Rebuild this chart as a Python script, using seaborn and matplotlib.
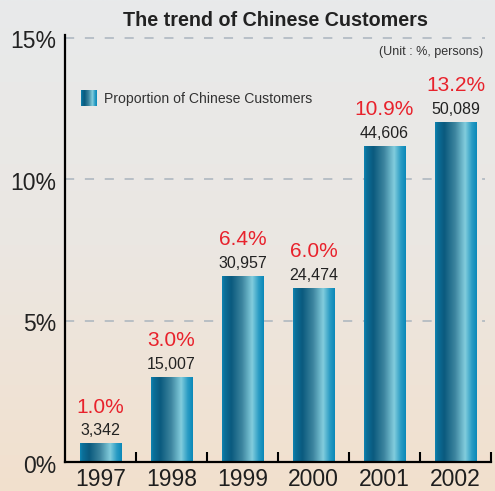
import numpy as np
import pandas as pd
import matplotlib
matplotlib.use("Agg")
import matplotlib.pyplot as plt
import matplotlib.transforms as mtrans
from matplotlib.colors import LinearSegmentedColormap
from matplotlib.ticker import FixedLocator
import seaborn as sns

years = ["1997", "1998", "1999", "2000", "2001", "2002"]
bar_heights = [0.66, 3.02, 6.58, 6.15, 11.18, 12.02]   # drawn bar heights (%)
pct_labels = [1.0, 3.0, 6.4, 6.0, 10.9, 13.2]
persons = [3342, 15007, 30957, 24474, 44606, 50089]
y_ticks = [0, 5, 10, 15]
title = "The trend of Chinese Customers"
unit_text = "(Unit : %, persons)"
legend_label = "Proportion of Chinese Customers"

sns.set_theme(style="white")
FONT = ["Liberation Sans", "DejaVu Sans"]
plt.rcParams["font.family"] = FONT

fig = plt.figure(figsize=(4.95, 4.91), dpi=100)

# background gradient
bg = fig.add_axes([0, 0, 1, 1], zorder=-10)
bg_cmap = LinearSegmentedColormap.from_list("bg", ["#e8eaeb", "#ebe7e2", "#f2e0cd"])
bg.imshow(np.linspace(0, 1, 256).reshape(-1, 1), aspect="auto", cmap=bg_cmap,
          extent=[0, 1, 0, 1], origin="upper")
bg.axis("off")

W, H = 495, 491
ax = fig.add_axes([65 / W, (H - 462) / H, 426 / W, (462 - 35) / H])
ax.patch.set_alpha(0)

df = pd.DataFrame({"year": years, "height": bar_heights})
sns.barplot(data=df, x="year", y="height", ax=ax, width=0.59,
            color="#1a7fa8", saturation=1, zorder=3)

bar_cmap = LinearSegmentedColormap.from_list(
    "bar", [(0.0, "#0e84b2"), (0.06, "#0b6f99"), (0.22, "#0a5a7e"),
            (0.48, "#3d859f"), (0.72, "#82cddd"), (0.88, "#2a9cc4"),
            (1.0, "#0a88b8")])
grad = np.linspace(0, 1, 256).reshape(1, -1)

for p in ax.patches:
    x0, y0 = p.get_x(), p.get_y()
    w, h = p.get_width(), p.get_height()
    p.set_facecolor("none")
    p.set_edgecolor("none")
    im = ax.imshow(grad, aspect="auto", cmap=bar_cmap,
                   extent=[x0, x0 + w, y0, y0 + h], zorder=3)
    im.set_clip_path(p)

ax.set_xlim(-0.5, 5.5)
ax.set_ylim(0, 15.1)

for i, (h, pc, n) in enumerate(zip(bar_heights, pct_labels, persons)):
    ax.annotate(f"{n:,}", (i, h), xytext=(0, 9), textcoords="offset points",
                ha="center", va="center", fontsize=11.5, color="#222222", zorder=5)
    ax.annotate(f"{pc:.1f}%", (i, h), xytext=(0, 26), textcoords="offset points",
                ha="center", va="center", fontsize=15, color="#e8222c", zorder=5)

# grid
for yv in y_ticks[1:]:
    ax.axhline(yv, xmin=0, xmax=0.985, color="#aab4be", lw=1.1,
               dashes=(6, 7), zorder=1)

ax.set_yticks(y_ticks)
ax.set_yticklabels([f"{v}%" for v in y_ticks], fontsize=16.5, color="#222222",
                   va="center")
ax.tick_params(axis="y", length=0, pad=6)
off = mtrans.ScaledTranslation(0, -3 / 72, fig.dpi_scale_trans)
for lbl in ax.get_yticklabels():
    lbl.set_transform(lbl.get_transform() + off)

ax.set_xticks(range(len(years)))
ax.set_xticklabels(years, fontsize=16.5, color="#1e1e1e")
ax.tick_params(axis="x", which="major", length=0, pad=4)
ax.xaxis.set_minor_locator(FixedLocator([0.5, 1.5, 2.5, 3.5, 4.5, 5.5]))
ax.tick_params(axis="x", which="minor", direction="in", length=7.5,
               width=1.5, color="black", bottom=True)
ax.set_xlabel("")
ax.set_ylabel("")

for s in ["top", "right"]:
    ax.spines[s].set_visible(False)
for s in ["left", "bottom"]:
    ax.spines[s].set_visible(True)
    ax.spines[s].set_color("black")
    ax.spines[s].set_linewidth(1.6)
    ax.spines[s].set_zorder(6)

# title & unit
fig.text(275 / W, 1 - 20 / H, title, ha="center", va="center",
         fontsize=14.2, fontweight="bold", color="#222222")
fig.text(483 / W, 1 - 52 / H, unit_text, ha="right", va="center",
         fontsize=9, color="#333333")

# legend
leg_ax = fig.add_axes([81 / W, 1 - 106 / H, 16 / W, 16 / H], zorder=5)
leg_ax.imshow(grad, aspect="auto", cmap=bar_cmap, extent=[0, 1, 0, 1])
leg_ax.axis("off")
fig.text(104 / W, 1 - 98.5 / H, legend_label, ha="left", va="center",
         fontsize=10.1, color="#333333")

fig.savefig("out.png", dpi=100)
